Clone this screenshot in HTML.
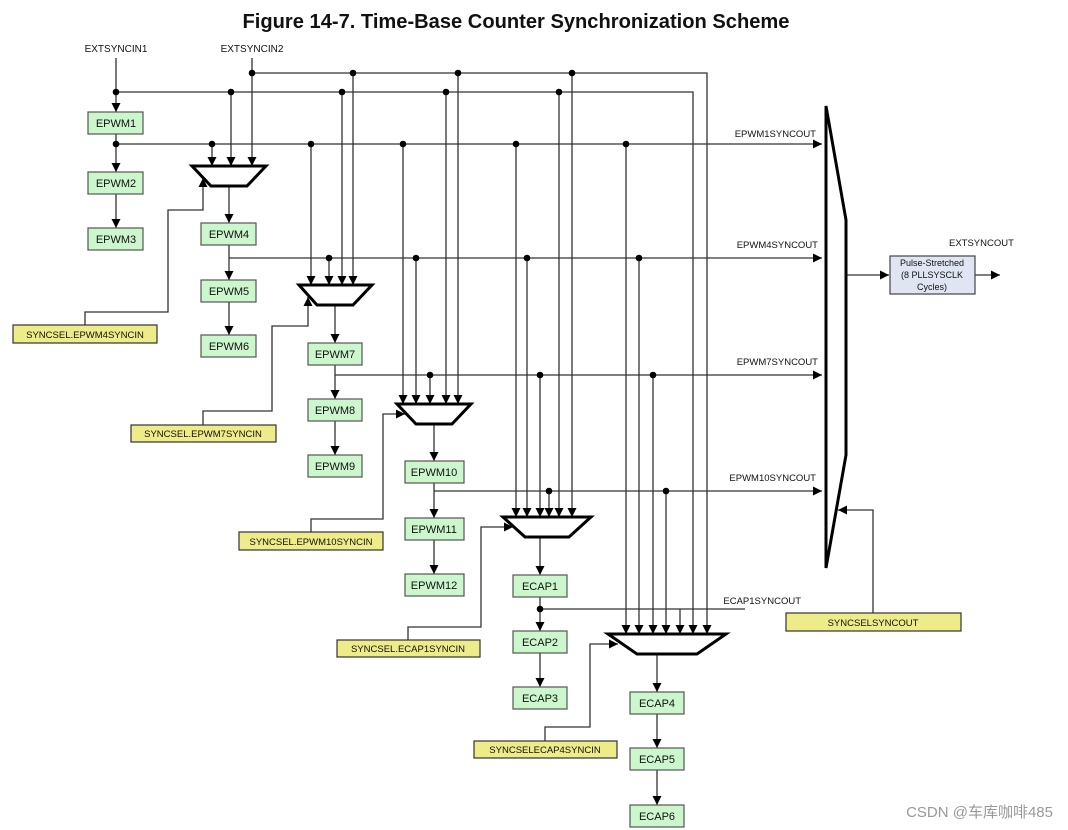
<!DOCTYPE html>
<html><head><meta charset="utf-8"><style>
html,body{margin:0;padding:0;background:#fff;}
svg{display:block;font-family:"Liberation Sans","Noto Sans CJK SC",sans-serif;}
</style></head><body>
<svg width="1068" height="830" viewBox="0 0 1068 830" xmlns="http://www.w3.org/2000/svg">
<defs>
<marker id="a" viewBox="0 0 10 10" refX="10" refY="5" markerWidth="9" markerHeight="9" markerUnits="userSpaceOnUse" orient="auto"><path d="M0,0 L10,5 L0,10 z" fill="#000"/></marker>
<marker id="b" viewBox="0 0 10 10" refX="10" refY="5" markerWidth="11" markerHeight="9" markerUnits="userSpaceOnUse" orient="auto"><path d="M0,0 L10,5 L0,10 z" fill="#000"/></marker>
</defs>
<text x="516" y="28" text-anchor="middle" font-size="20" font-weight="bold" fill="#111" textLength="547" lengthAdjust="spacingAndGlyphs">Figure 14-7. Time-Base Counter Synchronization Scheme</text>
<text x="116" y="52" text-anchor="middle" font-size="10" fill="#111">EXTSYNCIN1</text>
<text x="252" y="52" text-anchor="middle" font-size="10" fill="#111">EXTSYNCIN2</text>

<g stroke="#333" stroke-width="1.3" fill="none">
<polyline points="252,73 707,73 707,634" marker-end="url(#a)"/>
<line x1="252" y1="58" x2="252" y2="166" marker-end="url(#a)"/>
<polyline points="116,92 693,92 693,634" marker-end="url(#a)"/>
<line x1="116" y1="58" x2="116" y2="112" marker-end="url(#a)"/>
<line x1="116" y1="144" x2="822" y2="144" marker-end="url(#b)"/>
<line x1="229" y1="258" x2="822" y2="258" marker-end="url(#b)"/>
<line x1="335" y1="375" x2="822" y2="375" marker-end="url(#b)"/>
<line x1="434" y1="491" x2="822" y2="491" marker-end="url(#b)"/>
<line x1="540" y1="609" x2="745" y2="609"/>
<line x1="116" y1="134" x2="116" y2="172" marker-end="url(#a)"/>
<line x1="116" y1="194" x2="116" y2="228" marker-end="url(#a)"/>
<line x1="229" y1="245" x2="229" y2="280" marker-end="url(#a)"/>
<line x1="229" y1="302" x2="229" y2="335" marker-end="url(#a)"/>
<line x1="335" y1="365" x2="335" y2="399" marker-end="url(#a)"/>
<line x1="335" y1="421" x2="335" y2="455" marker-end="url(#a)"/>
<line x1="434" y1="483" x2="434" y2="518" marker-end="url(#a)"/>
<line x1="434" y1="540" x2="434" y2="574" marker-end="url(#a)"/>
<line x1="540" y1="597" x2="540" y2="631" marker-end="url(#a)"/>
<line x1="540" y1="653" x2="540" y2="687" marker-end="url(#a)"/>
<line x1="657" y1="714" x2="657" y2="748" marker-end="url(#a)"/>
<line x1="657" y1="770" x2="657" y2="805" marker-end="url(#a)"/>
<line x1="229" y1="186" x2="229" y2="223" marker-end="url(#a)"/>
<line x1="335" y1="305" x2="335" y2="343" marker-end="url(#a)"/>
<line x1="434" y1="424" x2="434" y2="461" marker-end="url(#a)"/>
<line x1="540" y1="537" x2="540" y2="575" marker-end="url(#a)"/>
<line x1="657" y1="654" x2="657" y2="692" marker-end="url(#a)"/>
<line x1="212" y1="144" x2="212" y2="166" marker-end="url(#a)"/>
<line x1="231" y1="92" x2="231" y2="166" marker-end="url(#a)"/>
<line x1="311" y1="144" x2="311" y2="285" marker-end="url(#a)"/>
<line x1="329" y1="258" x2="329" y2="285" marker-end="url(#a)"/>
<line x1="342" y1="92" x2="342" y2="285" marker-end="url(#a)"/>
<line x1="353" y1="73" x2="353" y2="285" marker-end="url(#a)"/>
<line x1="403" y1="144" x2="403" y2="404" marker-end="url(#a)"/>
<line x1="416" y1="258" x2="416" y2="404" marker-end="url(#a)"/>
<line x1="430" y1="375" x2="430" y2="404" marker-end="url(#a)"/>
<line x1="446" y1="92" x2="446" y2="404" marker-end="url(#a)"/>
<line x1="458" y1="73" x2="458" y2="404" marker-end="url(#a)"/>
<line x1="516" y1="144" x2="516" y2="517" marker-end="url(#a)"/>
<line x1="527" y1="258" x2="527" y2="517" marker-end="url(#a)"/>
<line x1="540" y1="375" x2="540" y2="517" marker-end="url(#a)"/>
<line x1="549" y1="491" x2="549" y2="517" marker-end="url(#a)"/>
<line x1="559" y1="92" x2="559" y2="517" marker-end="url(#a)"/>
<line x1="572" y1="73" x2="572" y2="517" marker-end="url(#a)"/>
<line x1="626" y1="144" x2="626" y2="634" marker-end="url(#a)"/>
<line x1="639" y1="258" x2="639" y2="634" marker-end="url(#a)"/>
<line x1="653" y1="375" x2="653" y2="634" marker-end="url(#a)"/>
<line x1="666" y1="491" x2="666" y2="634" marker-end="url(#a)"/>
<line x1="680" y1="609" x2="680" y2="634" marker-end="url(#a)"/>
<polyline points="85,325 85,312 168,312 168,210 203,210 203,178" marker-end="url(#a)"/>
<polyline points="203,425 203,411 272,411 272,326 308,326 308,297" marker-end="url(#a)"/>
<polyline points="311,532 311,519 383,519 383,414 405,414" marker-end="url(#a)"/>
<polyline points="408,640 408,627 481,627 481,527 513,527" marker-end="url(#a)"/>
<polyline points="545,741 545,727 590,727 590,644 618,644" marker-end="url(#a)"/>
<polyline points="873,613 873,510 838,510" marker-end="url(#a)"/>
<line x1="846" y1="275" x2="889" y2="275" marker-end="url(#a)"/>
<line x1="975" y1="275" x2="1000" y2="275" marker-end="url(#b)"/>
</g>

<g fill="#000">
<circle cx="252" cy="73" r="3.3"/><circle cx="353" cy="73" r="3.3"/><circle cx="458" cy="73" r="3.3"/><circle cx="572" cy="73" r="3.3"/>
<circle cx="116" cy="92" r="3.3"/><circle cx="231" cy="92" r="3.3"/><circle cx="342" cy="92" r="3.3"/><circle cx="446" cy="92" r="3.3"/><circle cx="559" cy="92" r="3.3"/>
<circle cx="116" cy="144" r="3.3"/><circle cx="212" cy="144" r="3.3"/><circle cx="311" cy="144" r="3.3"/><circle cx="403" cy="144" r="3.3"/><circle cx="516" cy="144" r="3.3"/><circle cx="626" cy="144" r="3.3"/>
<circle cx="329" cy="258" r="3.3"/><circle cx="416" cy="258" r="3.3"/><circle cx="527" cy="258" r="3.3"/><circle cx="639" cy="258" r="3.3"/>
<circle cx="430" cy="375" r="3.3"/><circle cx="540" cy="375" r="3.3"/><circle cx="653" cy="375" r="3.3"/>
<circle cx="549" cy="491" r="3.3"/><circle cx="666" cy="491" r="3.3"/>
<circle cx="540" cy="609" r="3.3"/>
</g>

<g fill="#fff" stroke="#000" stroke-width="3" stroke-linejoin="miter">
<polygon points="192,166 266,166 247,186 211,186"/>
<polygon points="299,285 372,285 353,305 317,305"/>
<polygon points="397,404 471,404 452,424 416,424"/>
<polygon points="503,517 591,517 569,537 525,537"/>
<polygon points="608,634 726,634 697,654 637,654"/>
<polygon points="826,106 846,220 846,455 826,568"/>
</g>

<g fill="#ccf7cc" stroke="#555" stroke-width="1.2">
<rect x="88" y="112" width="55" height="22"/><rect x="88" y="172" width="55" height="22"/><rect x="88" y="228" width="55" height="22"/>
<rect x="201" y="223" width="55" height="22"/><rect x="201" y="280" width="55" height="22"/><rect x="201" y="335" width="55" height="22"/>
<rect x="308" y="343" width="54" height="22"/><rect x="308" y="399" width="54" height="22"/><rect x="308" y="455" width="54" height="22"/>
<rect x="405" y="461" width="59" height="22"/><rect x="405" y="518" width="59" height="22"/><rect x="405" y="574" width="59" height="22"/>
<rect x="513" y="575" width="54" height="22"/><rect x="513" y="631" width="54" height="22"/><rect x="513" y="687" width="54" height="22"/>
<rect x="630" y="692" width="54" height="22"/><rect x="630" y="748" width="54" height="22"/><rect x="630" y="805" width="54" height="22"/>
</g>
<g font-size="11" text-anchor="middle" fill="#111">
<text x="116" y="127">EPWM1</text><text x="116" y="187">EPWM2</text><text x="116" y="243">EPWM3</text>
<text x="229" y="238">EPWM4</text><text x="229" y="295">EPWM5</text><text x="229" y="350">EPWM6</text>
<text x="335" y="358">EPWM7</text><text x="335" y="414">EPWM8</text><text x="335" y="470">EPWM9</text>
<text x="434" y="476">EPWM10</text><text x="434" y="533">EPWM11</text><text x="434" y="589">EPWM12</text>
<text x="540" y="590">ECAP1</text><text x="540" y="646">ECAP2</text><text x="540" y="702">ECAP3</text>
<text x="657" y="707">ECAP4</text><text x="657" y="763">ECAP5</text><text x="657" y="820">ECAP6</text>
</g>

<g fill="#eeec88" stroke="#333" stroke-width="1.2">
<rect x="13" y="325" width="144" height="18"/>
<rect x="131" y="425" width="145" height="17"/>
<rect x="239" y="532" width="144" height="18"/>
<rect x="337" y="640" width="143" height="17"/>
<rect x="474" y="741" width="143" height="17"/>
<rect x="786" y="613" width="175" height="18"/>
</g>
<g font-size="9.5" text-anchor="middle" fill="#111">
<text x="85" y="338">SYNCSEL.EPWM4SYNCIN</text>
<text x="203" y="437">SYNCSEL.EPWM7SYNCIN</text>
<text x="311" y="545">SYNCSEL.EPWM10SYNCIN</text>
<text x="408" y="652">SYNCSEL.ECAP1SYNCIN</text>
<text x="545" y="753">SYNCSELECAP4SYNCIN</text>
<text x="873" y="626">SYNCSELSYNCOUT</text>
</g>

<g font-size="9.5" text-anchor="end" fill="#111">
<text x="816" y="137">EPWM1SYNCOUT</text>
<text x="818" y="248">EPWM4SYNCOUT</text>
<text x="818" y="365">EPWM7SYNCOUT</text>
<text x="816" y="481">EPWM10SYNCOUT</text>
<text x="801" y="604">ECAP1SYNCOUT</text>
</g>
<text x="949" y="246" font-size="9.5" fill="#111">EXTSYNCOUT</text>

<rect x="890" y="256" width="85" height="38" fill="#dfe5f2" stroke="#444" stroke-width="1.2"/>
<g font-size="9" text-anchor="middle" fill="#111">
<text x="932" y="266">Pulse-Stretched</text>
<text x="932" y="278">(8 PLLSYSCLK</text>
<text x="932" y="290">Cycles)</text>
</g>

<text x="1053" y="817" text-anchor="end" font-size="15" fill="#999">CSDN @车库咖啡485</text>
</svg>
</body></html>
